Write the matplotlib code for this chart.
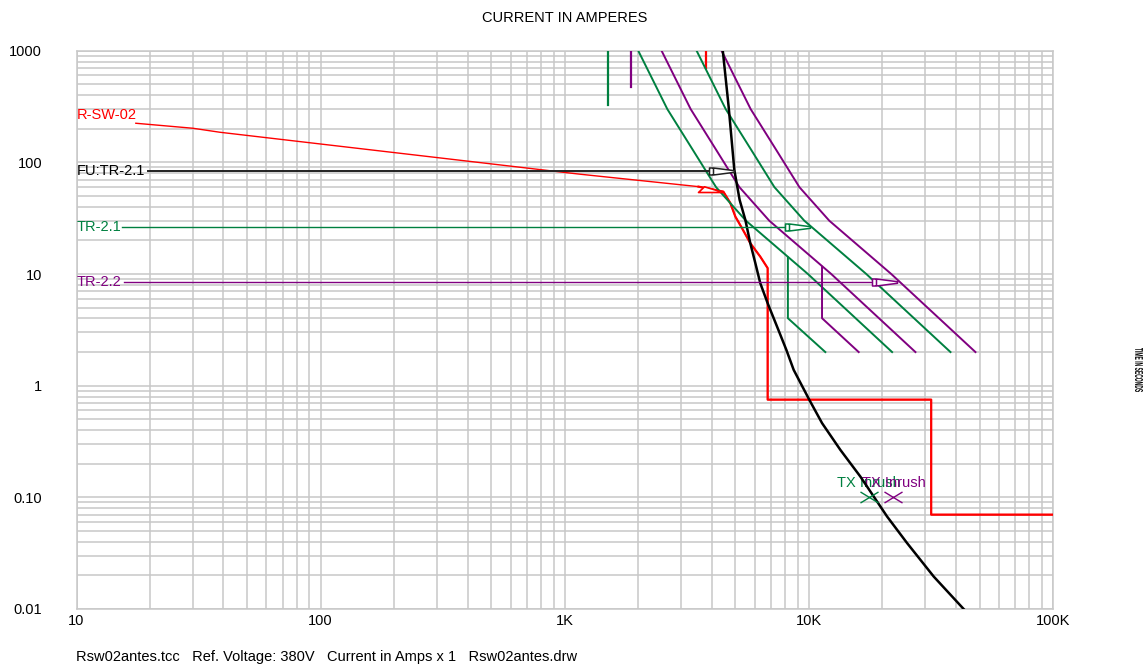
import matplotlib
matplotlib.use("Agg")
import matplotlib.pyplot as plt
from matplotlib.path import Path
from matplotlib.patches import PathPatch
from matplotlib.textpath import TextPath
from matplotlib.font_manager import FontProperties
from matplotlib.transforms import Affine2D
from matplotlib.ticker import NullFormatter, LogLocator

plt.rcParams['font.family'] = ['Liberation Sans', 'DejaVu Sans']
plt.rcParams['font.size'] = 10.5

RED = '#ff0000'
GREEN = '#008040'
PURPLE = '#800080'
GRID = '#c8c8c8'

# R-SW-02 trip curve (amps, seconds)
rsw_amps = [17.5, 30, 38.7, 100, 1000, 1157, 3532, 4463, 4764, 4998, 5324, 5754,
            6324, 6778, 6778, 31700, 31700, 100000]
rsw_secs = [224, 202, 186, 146, 81.2, 78.3, 60.6, 54.7, 43.3, 32.7, 25.7, 18.9,
            14.3, 11.3, 0.75, 0.75, 0.07, 0.07]
rsw_top_amps = [3802, 3802]
rsw_top_secs = [1000, 695]

# FU:TR-2.1 fuse melting curve
fuse_amps = [4440, 4692, 4950, 5204, 5493, 5754, 6036, 6324, 6778, 7408, 8088, 8665,
             10046, 11324, 13459, 16250, 18438, 20914, 25261, 32477, 43053]
fuse_secs = [1000, 315, 85.5, 46.1, 30.5, 18.9, 12.5, 8.27, 5.48, 3.38, 2.09, 1.385,
             0.746, 0.462, 0.266, 0.1535, 0.1017, 0.0673, 0.0389, 0.0195, 0.01]

# transformer damage curves
damage_secs = [1000, 300, 129, 60, 30, 10, 2]
tr21_inner = [2000, 2631, 3349, 4166, 5525, 9910, 21925]
tr21_outer = [3468, 4563, 5810, 7225, 9582, 17190, 38025]
tr22_inner = [2492, 3279, 4175, 5192, 6886, 12351, 27325]
tr22_outer = [4389, 5775, 7354, 9144, 12128, 21753, 48125]

# frequent-fault shelf
tr21_shelf_amps = [8204, 8204, 11680]
tr21_shelf_secs = [14.1, 4.02, 2]
tr22_shelf_amps = [11320, 11320, 16000]
tr22_shelf_secs = [11.6, 4.02, 2]

# full load marks
tr21_fla = [1507, 1507]
tr21_fla_secs = [1000, 327]
tr22_fla = [1873, 1873]
tr22_fla_secs = [1000, 476]

# inrush points
inrush_amps = [17600, 22200]
inrush_secs = [0.1, 0.1]

# device labels and their leader lines
label_names = ['R-SW-02', 'FU:TR-2.1', 'TR-2.1', 'TR-2.2']
label_secs = [266, 84.3, 26.6, 8.5]
leader_start = [19.6, 15.4, 15.6]
leader_tip = [4950, 10140, 22990]

xticks = [10, 100, 1000, 10000, 100000]
xticklabels = ['10', '100', '1K', '10K', '100K']
yticks = [0.01, 0.1, 1, 10, 100, 1000]
yticklabels = ['0.01', '0.10', '1', '10', '100', '1000']

W, H = 1147, 665
fig = plt.figure(figsize=(W / 100, H / 100), dpi=100)
ax = fig.add_axes([76.5 / W, 1 - 609 / H, (1053 - 76.5) / W, (609 - 50.7) / H])
ax.set_xscale('log')
ax.set_yscale('log')
ax.set_xlim(10, 100000)
ax.set_ylim(0.01, 1000)

ax.set_xticks(xticks)
ax.set_xticklabels(xticklabels)
ax.set_yticks(yticks)
ax.set_yticklabels(yticklabels)
ax.xaxis.set_minor_locator(LogLocator(base=10, subs=range(2, 10)))
ax.yaxis.set_minor_locator(LogLocator(base=10, subs=range(2, 10)))
ax.xaxis.set_minor_formatter(NullFormatter())
ax.yaxis.set_minor_formatter(NullFormatter())
ax.tick_params(which='both', length=0)
ax.tick_params(axis='x', pad=3.6)
ax.tick_params(axis='y', pad=24.8)
ax.grid(which='both', color=GRID, lw=1.1)
ax.set_axisbelow(True)
for s in ax.spines.values():
    s.set_color(GRID)
    s.set_linewidth(1.1)

# flag marker pointing right, tip at the data point
flag = Path([(-25, -3.5), (-25, 3.5), (-21, 3.5), (0, 0.8), (0, -0.8), (-21, -3.5), (-25, -3.5),
             (-21, 3.5), (-21, -3.5)],
            [Path.MOVETO, Path.LINETO, Path.LINETO, Path.LINETO, Path.LINETO, Path.LINETO,
             Path.CLOSEPOLY, Path.MOVETO, Path.LINETO])
tri = Path([(-25, 0), (-19, 5.7), (0, 0), (-25, 0)],
           [Path.MOVETO, Path.LINETO, Path.LINETO, Path.CLOSEPOLY])
cross = Path([(-9, -5.5), (9, 5.5), (-9, 5.5), (9, -5.5)],
             [Path.MOVETO, Path.LINETO, Path.MOVETO, Path.LINETO])

# R-SW-02
ax.plot(rsw_amps, rsw_secs, color=RED, lw=1.0, zorder=3)
ax.plot(rsw_amps[6:], rsw_secs[6:], color=RED, lw=1.6, zorder=3)
ax.plot(rsw_top_amps, rsw_top_secs, color=RED, lw=1.6, zorder=3)
ax.plot([rsw_amps[7]], [rsw_secs[7]], marker=tri, ms=36, mfc='white', mec=RED, mew=1.2, zorder=6)
ax.text(10, label_secs[0], label_names[0], color=RED, ha='left', va='center')

# TR-2.1 (green) and TR-2.2 (purple)
for inner, outer, sh_a, sh_s, fla, fla_s, col in [
        (tr21_inner, tr21_outer, tr21_shelf_amps, tr21_shelf_secs, tr21_fla, tr21_fla_secs, GREEN),
        (tr22_inner, tr22_outer, tr22_shelf_amps, tr22_shelf_secs, tr22_fla, tr22_fla_secs, PURPLE)]:
    ax.plot(inner, damage_secs, color=col, lw=1.4, zorder=3)
    ax.plot(outer, damage_secs, color=col, lw=1.4, zorder=3)
    ax.plot(sh_a, sh_s, color=col, lw=1.4, zorder=3)
    ax.plot(fla, fla_s, color=col, lw=1.6, zorder=3)

# FU:TR-2.1
ax.plot(fuse_amps, fuse_secs, color='black', lw=1.8, zorder=4)

# leaders with flags
for i, col in enumerate(['#222222', GREEN, PURPLE]):
    y = label_secs[i + 1]
    ax.plot([leader_start[i], leader_tip[i]], [y, y], color=col, lw=1.0 if i else 1.4, zorder=5)
    ax.plot([leader_tip[i]], [y], marker=flag, ms=36, mfc='white', mec=col, mew=1.1, zorder=6)
    ax.text(10, y, label_names[i + 1], color='black' if i == 0 else col, ha='left', va='center')

# inrush points
for a, s, col in zip(inrush_amps, inrush_secs, [GREEN, PURPLE]):
    ax.plot([a], [s], marker=cross, ms=13, mec=col, mew=1.0, ls='none', zorder=6)
    ax.annotate('TX Inrush', xy=(a, s), xytext=(0, 10), textcoords='offset points',
                ha='center', va='center', color=col)

fig.text(564.7 / W, 1 - 18 / H, 'CURRENT IN AMPERES', ha='center', va='center')
fig.text(76 / W, 1 - 657 / H,
         'Rsw02antes.tcc   Ref. Voltage: 380V   Current in Amps x 1   Rsw02antes.drw',
         ha='left', va='center')

# squeezed vertical axis caption on the right margin
tp = TextPath((0, 0), 'TIME IN SECONDS', size=10,
              prop=FontProperties(family='Liberation Sans', weight='bold'))
bb = tp.get_extents()
tr = (Affine2D().translate(-bb.x0, -bb.y0)
      .scale(44 / bb.width, 8 / bb.height)
      .rotate_deg(-90)
      .translate(1135, H - 348))
fig.add_artist(PathPatch(tp, transform=tr, color='black', lw=0))

fig.savefig('out.png', dpi=100)
